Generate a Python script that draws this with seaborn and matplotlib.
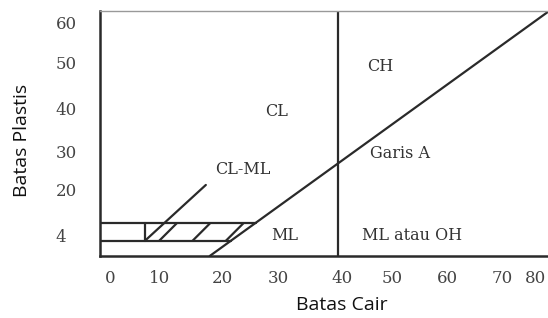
import matplotlib
matplotlib.use("Agg")
import matplotlib.pyplot as plt
import seaborn as sns
import numpy as np
import pandas as pd

# ---- data (chart units of the drawn sketch) ----
x_tick_pos = [1.8, 10.7, 21.8, 31.8, 43.2, 52.1, 62.1, 71.8, 77.7]
x_tick_labels = ["0", "10", "20", "30", "40", "50", "60", "70", "80"]
y_tick_pos = [57.3, 47.3, 36.2, 25.5, 16.2, 5.1]
y_tick_labels = ["60", "50", "40", "30", "20", "4"]

a_line_x = [19.6, 80.0]          # Garis A
a_line_y = [0.0, 59.8]
ll_boundary = 42.5               # vertical liquid-limit boundary
band_low = 3.7                   # CL-ML band
band_high = 8.1
band_left = 8.0
leader_x = [8.0, 18.9]
leader_y = [3.7, 17.4]

region_names = ["CH", "CL", "Garis A", "CL-ML", "ML", "ML atau OH"]
region_x = [50.0, 31.6, 53.6, 25.5, 33.0, 55.7]
region_y = [46.5, 35.3, 25.2, 21.3, 5.1, 5.1]

# ---- figure ----
sns.set_theme(style="white")
plt.rcParams["hatch.linewidth"] = 1.6

fig = plt.figure(figsize=(5.48, 3.18), dpi=100)
ax = fig.add_axes([100 / 548, 62 / 318, 448 / 548, 245 / 318])
ax.set_xlim(0, 80)
ax.set_ylim(0, 60)

line_color = "#2a2a2a"
slope = (a_line_y[1] - a_line_y[0]) / (a_line_x[1] - a_line_x[0])

def a_line_at(y):
    return a_line_x[0] + (y - a_line_y[0]) / slope

a_df = pd.DataFrame({"LL": a_line_x, "PI": a_line_y})
sns.lineplot(data=a_df, x="LL", y="PI", ax=ax, color=line_color, lw=1.6)

ax.axvline(ll_boundary, color=line_color, lw=1.6)

for lvl in (band_low, band_high):
    ax.plot([0, a_line_at(lvl)], [lvl, lvl], color=line_color, lw=1.6)
ax.plot([band_left, band_left], [band_low, band_high], color=line_color, lw=1.6)
ax.plot(leader_x, leader_y, color=line_color, lw=1.6)

poly_x = [band_left, a_line_at(band_low), a_line_at(band_high), band_left]
poly_y = [band_low, band_low, band_high, band_high]
ax.fill(poly_x, poly_y, facecolor="none", edgecolor=line_color, linewidth=0, hatch="/")

serif = "DejaVu Serif"
for name, tx, ty in zip(region_names, region_x, region_y):
    ax.text(tx, ty, name, ha="center", va="center", family=serif, fontsize=11.5,
            color="#333333")

# ticks
ax.set_xticks(x_tick_pos)
ax.set_xticklabels(x_tick_labels, family=serif, fontsize=12, color="#444444")
ax.set_yticks(y_tick_pos)
ax.set_yticklabels(y_tick_labels, family=serif, fontsize=12, color="#444444")
ax.tick_params(axis="x", length=0, pad=10)
ax.tick_params(axis="y", length=0, pad=32)
for lab in ax.get_yticklabels():
    lab.set_horizontalalignment("left")

# spines
for s in ("left", "bottom"):
    ax.spines[s].set_color(line_color)
    ax.spines[s].set_linewidth(1.8)
ax.spines["top"].set_color("#999999")
ax.spines["top"].set_linewidth(1.0)
ax.spines["right"].set_visible(False)

ax.set_xlabel("")
ax.set_ylabel("")
fig.text(342 / 548, 1 - 305 / 318, "Batas Cair", ha="center", va="center",
         family="Open Sans", fontsize=14, color="#111111")
fig.text(22 / 548, 1 - 140 / 318, "Batas Plastis", ha="center", va="center",
         rotation=90, family="Open Sans", fontsize=14, color="#111111")

fig.savefig("out.png", dpi=100)
